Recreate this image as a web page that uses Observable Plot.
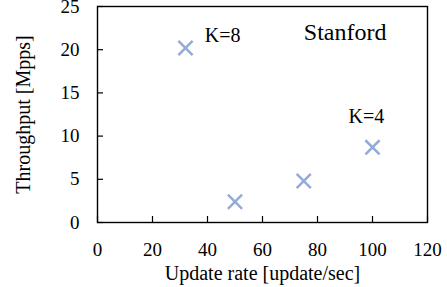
<!DOCTYPE html>
<html>
<head>
<meta charset="utf-8">
<script src="https://cdn.jsdelivr.net/npm/d3@7"></script>
<script src="https://cdn.jsdelivr.net/npm/@observablehq/plot@0.6"></script>
<style>
  html, body { margin: 0; padding: 0; background: #fff; }
  #chart svg { display: block; }
  #chart svg, #chart svg text { font-family: "Liberation Serif", "Times New Roman", serif !important; }
</style>
</head>
<body>
<div id="chart"></div>
<script>
const updateRate = [32, 50, 75, 100];
const throughput = [20.2, 2.4, 4.8, 8.7];
const xTicks = [0, 20, 40, 60, 80, 100, 120];
const yTicks = [0, 5, 10, 15, 20, 25];
const labelText = ["K=8", "K=4"];
const labelX = [45.5, 97.8];
const labelY = [21.6, 12.3];
const panelTitle = "Stanford";

const points = updateRate.map((x, i) => ({x, y: throughput[i]}));
const labels = labelText.map((t, i) => ({t, x: labelX[i], y: labelY[i]}));

const font = "Liberation Serif";

const chart = Plot.plot({
  width: 447,
  height: 287,
  marginLeft: 97,
  marginRight: 20,
  marginTop: 6,
  marginBottom: 65,
  style: {fontFamily: font, fontSize: "19px", color: "#000", background: "#fff"},
  x: {domain: [0, 120], ticks: xTicks},
  y: {domain: [0, 25], ticks: yTicks},
  marks: [
    Plot.frame({stroke: "#000", strokeWidth: 1.4}),
    Plot.axisX({ticks: xTicks, tickSize: -6, tickPadding: 26, fontSize: 19, fontFamily: font, label: null, strokeWidth: 1.2}),
    Plot.axisY({ticks: yTicks, tickSize: -6, tickPadding: 24, fontSize: 19, fontFamily: font, label: null, strokeWidth: 1.2}),
    Plot.text(["Update rate [update/sec]"], {frameAnchor: "bottom", dy: 51, fontSize: 20, fontFamily: font, lineAnchor: "middle"}),
    Plot.text(["Throughput [Mpps]"], {frameAnchor: "left", dx: -74, rotate: -90, fontSize: 20, fontFamily: font, textAnchor: "middle", lineAnchor: "middle"}),
    Plot.dot(points, {x: "x", y: "y", symbol: "times", r: 6.5, stroke: "#93ABD8", strokeWidth: 2.5}),
    Plot.text(labels, {x: "x", y: "y", text: "t", fontSize: 20, fontFamily: font, textAnchor: "middle", lineAnchor: "middle"}),
    Plot.text([panelTitle], {frameAnchor: "top-right", dx: -41, dy: 26, fontSize: 24, fontFamily: font, textAnchor: "end", lineAnchor: "middle"})
  ]
});
document.getElementById("chart").append(chart);
</script>
</body>
</html>
